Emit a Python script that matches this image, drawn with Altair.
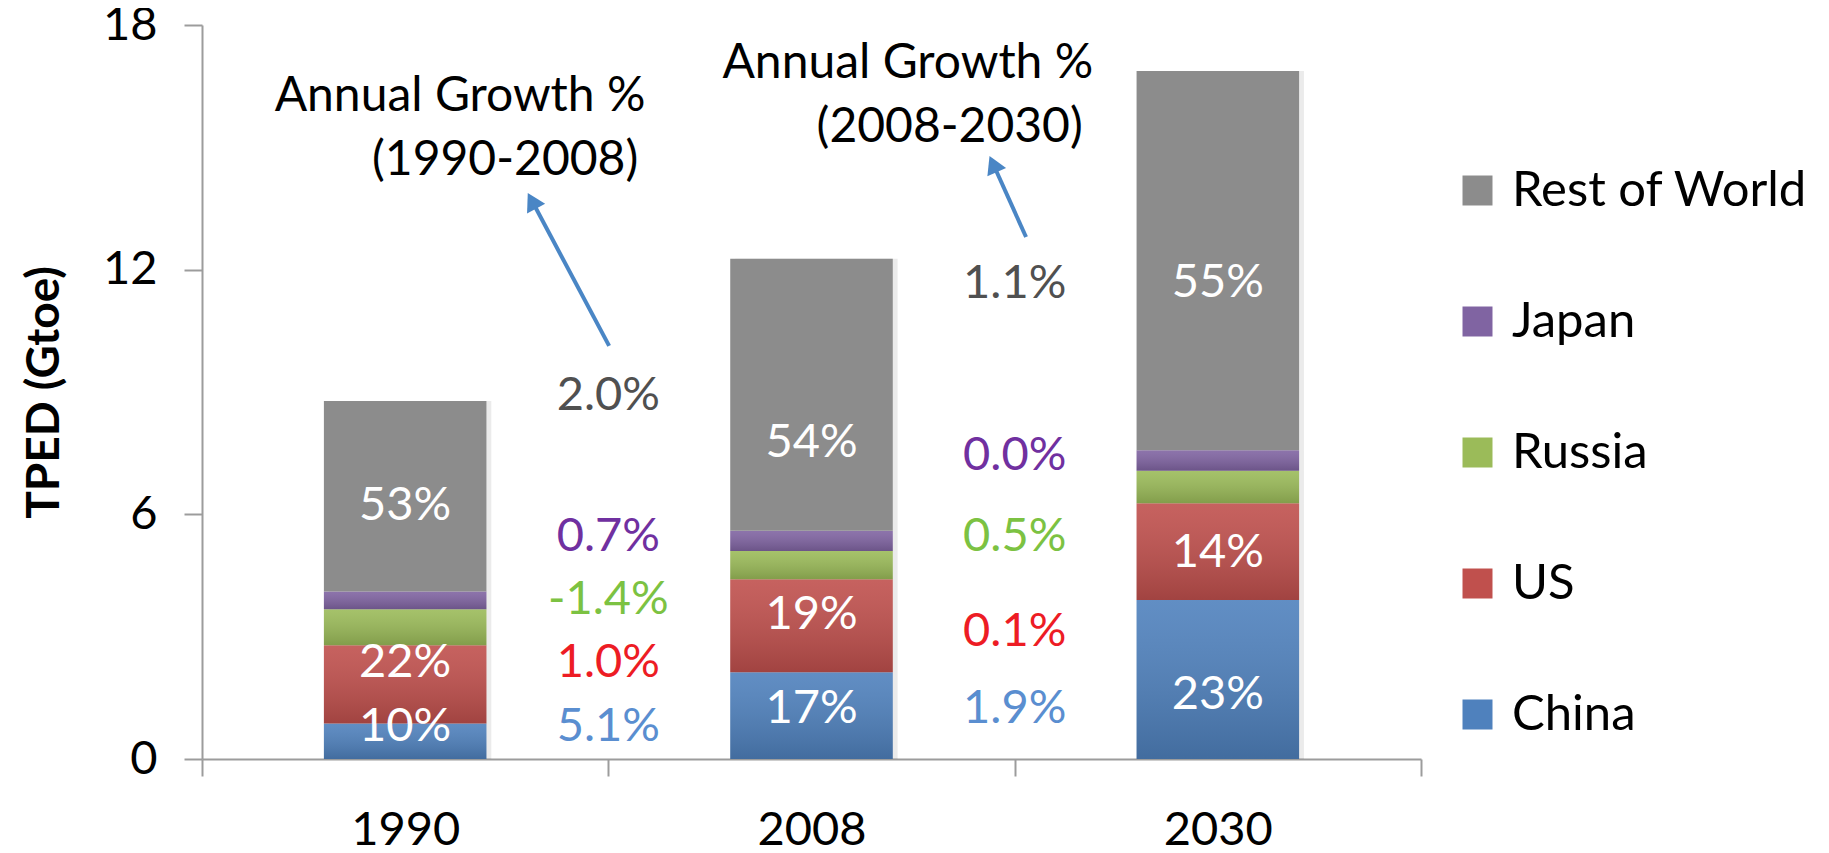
import altair as alt
import pandas as pd

# ---------------- data ----------------
years = ["1990", "2008", "2030"]
regions = ["China", "US", "Russia", "Japan", "Rest of World"]          # stack order, bottom -> top
legend_order = ["Rest of World", "Japan", "Russia", "US", "China"]
china = [0.87, 2.13, 3.90]
us = [1.92, 2.28, 2.37]
russia = [0.88, 0.69, 0.80]
japan = [0.44, 0.50, 0.50]
rest_of_world = [4.67, 6.67, 9.30]
region_colors = ["#4f81bd", "#c0504d", "#9bbb59", "#8064a2", "#8c8c8c"]

share_year = ["1990", "1990", "1990", "2008", "2008", "2008", "2030", "2030", "2030"]
share_text = ["10%", "22%", "53%", "17%", "19%", "54%", "23%", "14%", "55%"]
share_y = [0.79, 2.35, 6.20, 1.22, 3.54, 7.76, 1.56, 5.04, 11.67]

growth_1990_2008 = ["5.1%", "1.0%", "-1.4%", "0.7%", "2.0%"]
growth_2008_2030 = ["1.9%", "0.1%", "0.5%", "0.0%", "1.1%"]
growth_y_1990_2008 = [0.79, 2.35, 3.91, 5.44, 8.90]
growth_y_2008_2030 = [1.22, 3.12, 5.44, 7.42, 11.65]
growth_colors = ["#5a8ed0", "#ed1c24", "#7cc242", "#7030a0", "#505050"]

note_text = ["Annual Growth %", "(1990-2008)", "Annual Growth %", "(2008-2030)"]
note_x = [0.635, 0.746, 1.737, 1.840]
note_y = [15.90, 14.31, 16.69, 15.14]

arrow_x = [1.002, 2.028]
arrow_y = [10.13, 12.80]
arrow_x2 = [0.812, 1.947]
arrow_y2 = [13.69, 14.59]
arrow_angle = [332, 336]

FONT = "Lato"

# ---------------- tables ----------------
series = [china, us, russia, japan, rest_of_world]
rows = []
for i, yr in enumerate(years):
    for j, reg in enumerate(regions):
        rows.append({"year": yr, "pos": i, "region": reg, "order": j, "value": series[j][i]})
df_bars = pd.DataFrame(rows)

df_share = pd.DataFrame({
    "pos": [years.index(y) + 0.5 for y in share_year],
    "text": share_text,
    "y": share_y,
})

grow_rows = []
for j, reg in enumerate(regions):
    grow_rows.append({"pos": 1, "text": growth_1990_2008[j], "y": growth_y_1990_2008[j], "col": growth_colors[j]})
    grow_rows.append({"pos": 2, "text": growth_2008_2030[j], "y": growth_y_2008_2030[j], "col": growth_colors[j]})
df_grow = pd.DataFrame(grow_rows)

df_note = pd.DataFrame({"x": note_x, "y": note_y, "text": note_text})
df_arrow = pd.DataFrame({"x": arrow_x, "y": arrow_y, "x2": arrow_x2, "y2": arrow_y2, "angle": arrow_angle})

# ---------------- scales / axes ----------------
xs = alt.Scale(domain=[0, 3], nice=False, zero=False)
ys = alt.Scale(domain=[0, 18], nice=False)

label_expr = " : ".join(
    [f"datum.value == {i + 0.5} ? '{y}'" for i, y in enumerate(years)]
) + " : ''"

axis_gray = "#9c9c9c"
xaxis = alt.Axis(
    title=None,
    values=[0, 0.5, 1, 1.5, 2, 2.5, 3],
    labelExpr=label_expr,
    grid=False,
    domainColor=axis_gray,
    domainWidth=2,
    tickColor={"condition": {"test": "datum.value % 1 == 0", "value": axis_gray}, "value": "transparent"},
    tickWidth=2,
    tickSize=17,
    labelPadding=31,
    labelFont=FONT,
    labelFontSize=47,
    labelColor="black",
    labelFlush=False,
    labelOverlap=False,
    labelBound=False,
)
yaxis = alt.Axis(
    title="TPED (Gtoe)",
    titleFont=FONT,
    titleFontSize=46,
    titleFontWeight="bold",
    titleColor="black",
    titleX=-158,
    titleY=367,
    titleAngle=270,
    titleAlign="center",
    titleBaseline="middle",
    values=[0, 6, 12, 18],
    grid=False,
    domainColor=axis_gray,
    domainWidth=2,
    tickColor=axis_gray,
    tickWidth=2,
    tickSize=18,
    labelPadding=27,
    labelFont=FONT,
    labelFontSize=47,
    labelColor="black",
    labelFlush=False,
)

# ---------------- layers ----------------
base = (
    alt.Chart(df_bars)
    .transform_stack(stack="value", groupby=["year"], sort=[alt.SortField("order")], as_=["y0", "y1"])
    .transform_calculate(xa="datum.pos + 0.3", xb="datum.pos + 0.7",
                         sa="datum.pos + 0.312", sb="datum.pos + 0.712")
)

shadow = base.mark_bar(color="#000000", opacity=0.08).encode(
    x=alt.X("sa:Q", scale=xs, axis=xaxis),
    x2="sb:Q",
    y=alt.Y("y0:Q", scale=ys, axis=yaxis),
    y2="y1:Q",
)

bars = base.mark_bar(strokeWidth=0).encode(
    x=alt.X("xa:Q", scale=xs, axis=xaxis),
    x2="xb:Q",
    y=alt.Y("y0:Q", scale=ys, axis=yaxis),
    y2="y1:Q",
    color=alt.Color(
        "region:N",
        scale=alt.Scale(domain=legend_order, range=[region_colors[regions.index(r)] for r in legend_order]),
        legend=alt.Legend(
            title=None,
            orient="none",
            legendX=1251,
            legendY=141,
            symbolType="square",
            symbolSize=900,
            symbolStrokeWidth=0,
            symbolOpacity=1,
            labelFont=FONT,
            labelFontSize=49,
            labelColor="black",
            labelLimit=600,
            labelOffset=10,
            rowPadding=81,
            padding=0,
        ),
    ),
)

gloss = base.transform_filter("datum.region != 'Rest of World'").mark_bar(
    strokeWidth=0,
    fill=alt.LinearGradient(
        gradient="linear",
        stops=[
            alt.GradientStop(color="rgba(255,255,255,0.10)", offset=0),
            alt.GradientStop(color="rgba(0,0,0,0.16)", offset=1),
        ],
        x1=0, x2=0, y1=0, y2=1,
    ),
).encode(
    x=alt.X("xa:Q", scale=xs, axis=xaxis),
    x2="xb:Q",
    y=alt.Y("y0:Q", scale=ys, axis=yaxis),
    y2="y1:Q",
)

shares = alt.Chart(df_share).mark_text(
    font=FONT, fontSize=47, color="white", align="center", baseline="middle"
).encode(
    x=alt.X("pos:Q", scale=xs, axis=xaxis),
    y=alt.Y("y:Q", scale=ys, axis=yaxis),
    text="text:N",
)

growth = alt.Chart(df_grow).mark_text(
    font=FONT, fontSize=47, align="center", baseline="middle"
).encode(
    x=alt.X("pos:Q", scale=xs, axis=xaxis),
    y=alt.Y("y:Q", scale=ys, axis=yaxis),
    text="text:N",
    color=alt.Color("col:N", scale=None),
)

notes = alt.Chart(df_note).mark_text(
    font=FONT, fontSize=48, color="black", align="center", baseline="alphabetic"
).encode(
    x=alt.X("x:Q", scale=xs, axis=xaxis),
    y=alt.Y("y:Q", scale=ys, axis=yaxis),
    text="text:N",
)

arrow_lines = alt.Chart(df_arrow).mark_rule(color="#4a86c5", strokeWidth=4).encode(
    x=alt.X("x:Q", scale=xs, axis=xaxis),
    y=alt.Y("y:Q", scale=ys, axis=yaxis),
    x2="x2:Q",
    y2="y2:Q",
)

arrow_heads = alt.Chart(df_arrow).mark_point(
    shape="triangle-up", filled=True, color="#4a86c5", size=420, opacity=1
).encode(
    x=alt.X("x2:Q", scale=xs, axis=xaxis),
    y=alt.Y("y2:Q", scale=ys, axis=yaxis),
    angle=alt.Angle("angle:Q", scale=None),
)

chart = (
    alt.layer(shadow, bars, gloss, shares, growth, notes, arrow_lines, arrow_heads)
    .properties(
        width=1219,
        height=734,
        autosize=alt.AutoSizeParams(type="none"),
        padding={"left": 194, "top": 17, "right": 400, "bottom": 86},
    )
    .configure_view(stroke=None)
)

chart.save("out.html", embed_options={"renderer": "svg", "actions": False})
